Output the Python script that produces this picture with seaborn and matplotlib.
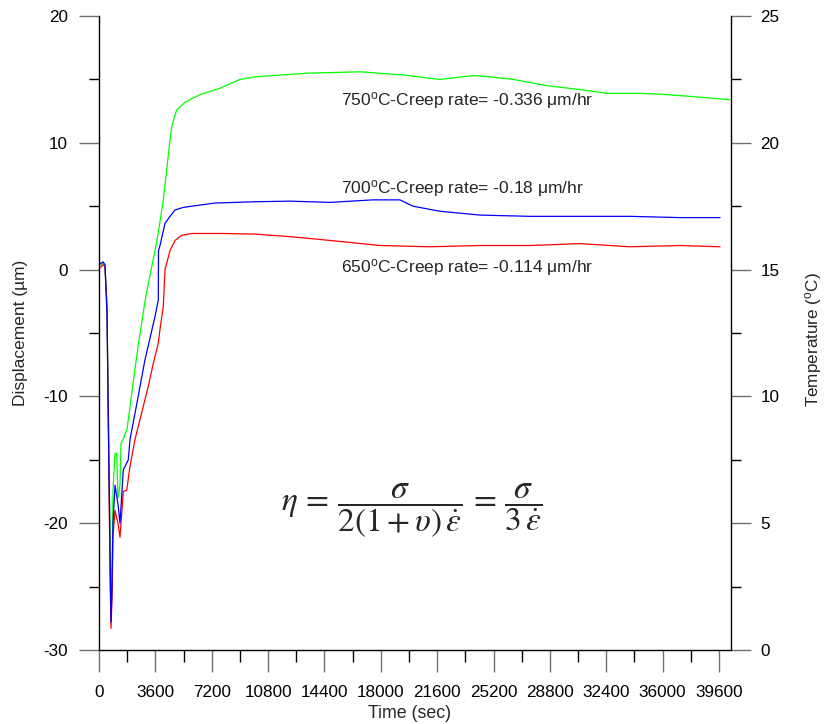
"""
Creep displacement vs time at three temperatures
"""
import numpy as np
import pandas as pd
import matplotlib
matplotlib.use("Agg")
import matplotlib.pyplot as plt
import seaborn as sns
from matplotlib.ticker import MultipleLocator

# Data (time in sec, displacement in um)
t_750 = [0, 128, 255, 383, 511, 639, 703, 767, 830, 894, 1022, 1130, 1213, 1341, 1405, 1533,
         1788, 2172, 2491, 2938, 3149, 3577, 3788, 4107, 4324, 4535, 4662, 4963, 5493, 6451,
         7728, 9006, 9964, 11113, 13477, 16670, 19417, 21780, 23888, 24973, 26442, 28613,
         30721, 32446, 34554, 36278, 38386, 40302]
d_750 = [0.3, 0.4, 0.6, 0.3, -3.0, -15, -20.3, -27.6, -25, -17.4, -14.5, -14.5, -18, -17, -13.7,
         -13.4, -12.6, -9, -6.1, -2.5, -1.1, 1.5, 2.9, 5.5, 7.9, 10.2, 11.4, 12.6, 13.2, 13.8,
         14.3, 15.0, 15.2, 15.3, 15.5, 15.6, 15.35, 15.0, 15.3, 15.2, 15.0, 14.5, 14.2, 13.9,
         13.9, 13.8, 13.6, 13.4]

t_700 = [0, 128, 255, 383, 511, 639, 703, 766, 830, 894, 1022, 1213, 1341, 1552, 1871, 1980,
         2427, 2938, 3257, 3577, 3787, 3800, 3896, 4215, 4535, 4854, 5365, 5921, 7410, 9964,
         12200, 14754, 17500, 19225, 20055, 21780, 24334, 27528, 30721, 33915, 37108, 39663]
d_700 = [0.4, 0.5, 0.6, 0.4, -3.5, -16, -22, -27.8, -25, -20, -17, -18.5, -20, -15.8, -15.0,
         -13.4, -10.5, -7.1, -5.4, -3.7, -2.4, 1.5, 1.9, 3.65, 4.2, 4.7, 4.9, 5.0, 5.25, 5.35,
         5.4, 5.3, 5.5, 5.5, 5.0, 4.6, 4.3, 4.2, 4.2, 4.2, 4.1, 4.1]

t_650 = [0, 128, 255, 383, 511, 639, 703, 766, 830, 894, 1022, 1213, 1341, 1552, 1769, 1980,
         2299, 2683, 3149, 3449, 3787, 3896, 4107, 4215, 4407, 4535, 4854, 5282, 5921, 7837,
         9964, 12200, 14754, 17947, 21141, 24334, 27528, 30721, 33915, 37108, 39663]
d_650 = [0.1, 0.2, 0.4, 0.2, -3, -17, -24, -28.3, -26, -21, -19, -20, -21.1, -17.5, -17.4,
         -15.5, -13.4, -11.5, -9.2, -7.5, -5.8, -4.7, -2.9, 0.0, 0.9, 1.5, 2.3, 2.7, 2.85,
         2.85, 2.8, 2.6, 2.3, 1.9, 1.8, 1.9, 1.9, 2.05, 1.8, 1.9, 1.8]

labels = [r"750$^{\mathrm{o}}$C-Creep rate= -0.336 $\mathrm{\mu}$m/hr",
          r"700$^{\mathrm{o}}$C-Creep rate= -0.18 $\mathrm{\mu}$m/hr",
          r"650$^{\mathrm{o}}$C-Creep rate= -0.114 $\mathrm{\mu}$m/hr"]
label_y = [13.3, 6.36, 0.13]

sns.set_style("ticks")
plt.rcParams["font.family"] = ["Liberation Sans", "DejaVu Sans"]
plt.rcParams["axes.unicode_minus"] = False
plt.rcParams["mathtext.fontset"] = "custom"
plt.rcParams["mathtext.rm"] = "Liberation Sans"
plt.rcParams["mathtext.it"] = "Liberation Sans:italic"

df = pd.concat([
    pd.DataFrame({"time": t_750, "disp": d_750, "temp": "750"}),
    pd.DataFrame({"time": t_650, "disp": d_650, "temp": "650"}),
    pd.DataFrame({"time": t_700, "disp": d_700, "temp": "700"}),
])
colors = {"750": "#00ff00", "650": "#ff0000", "700": "#0000ff"}

fig = plt.figure(figsize=(8.25, 7.24), dpi=100)
ax = fig.add_axes([0.12, 0.1022, 0.7657, 0.8757])
sns.lineplot(data=df, x="time", y="disp", hue="temp", palette=colors, units="temp",
             estimator=None, sort=False, linewidth=0.9, legend=False, ax=ax)

ax.set_xlim(0, 40345)
ax.set_ylim(-30, 20)
ax.xaxis.set_major_locator(MultipleLocator(3600))
ax.xaxis.set_minor_locator(MultipleLocator(1800))
ax.yaxis.set_major_locator(MultipleLocator(10))
ax.yaxis.set_minor_locator(MultipleLocator(5))

ax2 = ax.twinx()
ax2.set_ylim(0, 25)
ax2.yaxis.set_major_locator(MultipleLocator(5))
ax2.yaxis.set_minor_locator(MultipleLocator(2.5))

for a in (ax, ax2):
    a.spines["top"].set_visible(False)
    for s in a.spines.values():
        s.set_linewidth(1.0)
        s.set_color("black")
    a.tick_params(which="major", direction="out", length=14.5, width=1.0,
                  color="#707070", labelsize=12.3, labelcolor="black")
    a.tick_params(which="minor", direction="out", length=7.5, width=1.0, color="black")
ax.spines["right"].set_visible(False)
ax2.spines["left"].set_visible(False)
ax2.spines["bottom"].set_visible(False)
ax.tick_params(axis="x", which="major", length=16, pad=9)
ax.tick_params(axis="x", which="minor", length=8.5)
ax.tick_params(axis="y", which="major", pad=8)
ax2.tick_params(axis="y", which="major", pad=7)

ax.set_xlabel("Time (sec)", fontsize=12.8)
ax.set_ylabel("Displacement (\u00b5m)", fontsize=12.5)
ax2.set_ylabel(r"Temperature ($^{\mathrm{o}}$C)", fontsize=12.3)
ax.xaxis.set_label_coords(0.4923, -0.087)
ax.yaxis.set_label_coords(-0.112, 0.5)
ax2.yaxis.set_label_coords(1.114, 0.49)

for txt, yy in zip(labels, label_y):
    ax.text(15456, yy, txt, fontsize=12.5, ha="left", va="center")

ax.text(19960, -19.0,
        r"$\eta \,=\, \dfrac{\quad\sigma\quad}{2(1+\upsilon)\,\dot{\varepsilon}} \,=\, \dfrac{\sigma}{3\,\dot{\varepsilon}}$",
        fontsize=24, ha="center", va="center", math_fontfamily="stix")

fig.savefig("out.png", dpi=100)
